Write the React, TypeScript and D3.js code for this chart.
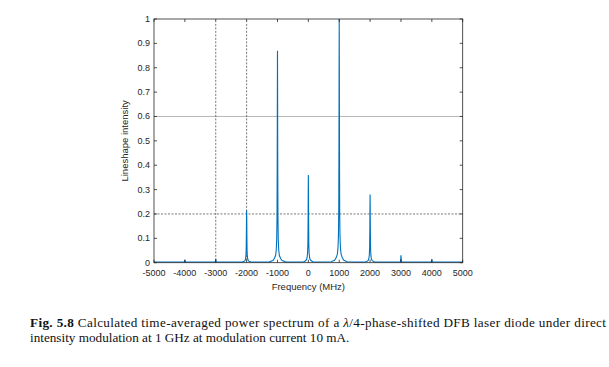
import React from "react";
import * as d3 from "d3";

const xTicks = [-5000, -4000, -3000, -2000, -1000, 0, 1000, 2000, 3000, 4000, 5000];
const yTicks = [0, 0.1, 0.2, 0.3, 0.4, 0.5, 0.6, 0.7, 0.8, 0.9, 1];
const peakFreqs = [-4000, -3000, -2000, -1000, 0, 1000, 2000, 3000, 4000];
const peakHeights = [0.012, 0.016, 0.215, 0.87, 0.36, 1.0, 0.28, 0.03, 0.015];
const profileOffsets = [-260, -150, -100, -60, -40, -25, -15, -8, -4, 0, 4, 8, 15, 25, 40, 60, 100, 150, 260];
const profileRel = [0.004, 0.01, 0.02, 0.035, 0.06, 0.11, 0.22, 0.5, 0.8, 1, 0.8, 0.5, 0.22, 0.11, 0.06, 0.035, 0.02, 0.01, 0.004];
const baseLevel = 0.003;
const vDashed = [-3000, -2000];
const hSolid = [0.6];
const hDashed = [0.2];

const W = 609, H = 367;
const left = 154, right = 462.7, top = 19, bottom = 262.7;

export default function App() {
  const x = d3.scaleLinear().domain([-5000, 5000]).range([left, right]);
  const y = d3.scaleLinear().domain([0, 1]).range([bottom, top]);

  const pts: [number, number][] = [[-5000, baseLevel]];
  peakFreqs.forEach((f, i) => {
    profileOffsets.forEach((o, j) => {
      pts.push([f + o, Math.max(baseLevel, peakHeights[i] * profileRel[j])]);
    });
  });
  pts.push([5000, baseLevel]);
  const line = d3.line<[number, number]>().x(d => x(d[0])).y(d => y(d[1]));

  const axisColor = "#262626";
  const font = "Liberation Sans, Arial, sans-serif";
  const serif = "Liberation Serif, Times New Roman, serif";
  const tl = 3;

  return (
    <svg width={W} height={H} style={{ position: "absolute", left: 0, top: 0, background: "#fff" }}>
      <rect x={0} y={0} width={W} height={H} fill="#fff" />
      {hSolid.map(v => (
        <line key={"hs" + v} x1={left} x2={right} y1={y(v)} y2={y(v)} stroke="#b8b8b8" strokeWidth={1} />
      ))}
      {hDashed.map(v => (
        <line key={"hd" + v} x1={left} x2={right} y1={y(v)} y2={y(v)} stroke="#555" strokeWidth={0.8} strokeDasharray="2,1.5" />
      ))}
      {vDashed.map(v => (
        <line key={"vd" + v} x1={x(v)} x2={x(v)} y1={y(0.98)} y2={bottom} stroke="#555" strokeWidth={0.8} strokeDasharray="2,1.5" />
      ))}
      <path d={line(pts) || ""} fill="none" stroke="#0072BD" strokeWidth={1.1} />
      <rect x={left} y={top} width={right - left} height={bottom - top} fill="none" stroke={axisColor} strokeWidth={0.8} />
      {xTicks.map(t => (
        <g key={"xt" + t}>
          <line x1={x(t)} x2={x(t)} y1={bottom} y2={bottom - tl} stroke={axisColor} strokeWidth={0.8} />
          <line x1={x(t)} x2={x(t)} y1={top} y2={top + tl} stroke={axisColor} strokeWidth={0.8} />
          <text x={x(t)} y={bottom + 13} textAnchor="middle" fontSize={9} fontFamily={font} fill={axisColor}>{t}</text>
        </g>
      ))}
      {yTicks.map(t => (
        <g key={"yt" + t}>
          <line x1={left} x2={left + tl} y1={y(t)} y2={y(t)} stroke={axisColor} strokeWidth={0.8} />
          <text x={left - 4} y={y(t) + 3} textAnchor="end" fontSize={9} fontFamily={font} fill={axisColor}>{t}</text>
          <line x1={right} x2={right - tl} y1={y(t)} y2={y(t)} stroke={axisColor} strokeWidth={0.8} />
        </g>
      ))}
      <text x={(left + right) / 2} y={290} textAnchor="middle" fontSize={9.5} fontFamily={font} fill={axisColor}>Frequency (MHz)</text>
      <text transform={`translate(128,${(top + bottom) / 2}) rotate(-90)`} textAnchor="middle" fontSize={9.5} fontFamily={font} fill={axisColor}>Lineshape intensity</text>
      <text x={30} y={327} fontSize={13.2} fontFamily={serif} fill="#111" textLength={576} lengthAdjust="spacing">
        <tspan fontWeight="bold">Fig. 5.8</tspan> Calculated time-averaged power spectrum of a <tspan fontStyle="italic">λ</tspan>/4-phase-shifted DFB laser diode under direct
      </text>
      <text x={30} y={342} fontSize={13.2} fontFamily={serif} fill="#111">
        intensity modulation at 1 GHz at modulation current 10 mA.
      </text>
    </svg>
  );
}
